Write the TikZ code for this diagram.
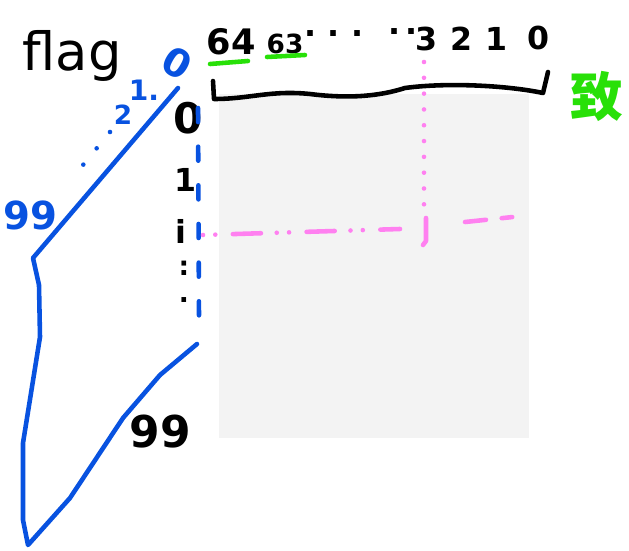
\documentclass[tikz,border=0pt]{standalone}
\usepackage{fontspec}
\setmainfont{DejaVu Sans}
\newfontfamily\cjk{Noto Sans CJK SC}
\usetikzlibrary{positioning}
\definecolor{penblue}{RGB}{8,82,224}
\definecolor{pengreen}{RGB}{40,224,8}
\definecolor{penpink}{RGB}{255,128,240}
\definecolor{sheet}{RGB}{243,243,243}
\tikzstyle{ink} = [line width=2.6pt, line cap=round, line join=round]
\tikzstyle{label} = [inner sep=0pt, font=\bfseries\fontsize{18}{18}\selectfont]
\tikzstyle{bluelabel} = [label, text=penblue]

\begin{document}
\begin{tikzpicture}[x=0.02cm, y=-0.02cm]
\useasboundingbox (0,0) rectangle (629,551);
\fill[sheet] (219,94) rectangle (529,438);

% bit numbers on top
\node (Bit64)[label, font=\bfseries\fontsize{20}{20}\selectfont] at (231,42) {64};
\node (Bit63)[label, font=\bfseries\fontsize{15}{15}\selectfont] at (285,44) {63};
\node (BitDots)[label] at (334,38) {· · ·};
\node (BitDotsR)[label] at (403,36) {·\,·};
\node (Bit3)[label] at (426,39) {3};
\node (Bit2)[label] at (461,39) {2};
\node (Bit1)[label] at (496,39) {1};
\node (Bit0)[label] at (538,38) {0};
\draw[ink, pengreen] (210,64) -- (248,61);
\draw[ink, pengreen] (267,57) -- (305,55);
\node (Shu)[inner sep=0pt, text=pengreen, font=\cjk\bfseries\fontsize{30}{30}\selectfont] at (597,96) {致};

% brace over the columns
\draw[ink] (213,81) -- (214,99) .. controls (250,99) and (270,90) .. (310,94)
  .. controls (350,99) and (380,96) .. (405,88)
  .. controls (450,82) and (510,86) .. (543,93) -- (548,72);

% row numbers
\node (Row0)[label, font=\bfseries\fontsize{24}{24}\selectfont] at (188,118) {0};
\node (Row1)[label] at (186,180) {1};
\node (RowI)[label] at (181,231) {i};
\node (RowDots)[label, font=\bfseries\fontsize{15}{15}\selectfont] at (184,268) {:};
\node (RowDot)[label, font=\bfseries\fontsize{15}{15}\selectfont] at (184,300) {.};
\draw[ink, penblue, dash pattern=on 8pt off 14pt] (198,108) -- (199,318);

% cell i, j
\draw[ink, penpink, dash pattern=on 0pt off 9pt] (424,62) -- (424,215);
\draw[ink, penpink] (426,218) -- (426,241) -- (423,245);
\draw[ink, penpink, dash pattern=on 0pt off 7pt on 0pt off 10pt on 16pt off 9pt] (203,235) -- (400,229);
\draw[ink, penpink, dash pattern=on 12pt off 9pt on 6pt off 12pt on 0pt off 9pt] (465,222) -- (532,215);

% flag
\node (Flag)[label, font=\fontsize{30}{30}\selectfont] at (72,56) {flag};
\node (Blue0)[bluelabel, font=\bfseries\fontsize{22}{22}\selectfont, rotate=-30] at (177,63) {0};
\node (Blue1)[bluelabel, font=\bfseries\fontsize{16}{16}\selectfont] at (144,90) {1.};
\node (Blue2)[bluelabel, font=\bfseries\fontsize{15}{15}\selectfont] at (123,115) {2};
\node (Blue99)[bluelabel, font=\bfseries\fontsize{22}{22}\selectfont] at (30,215) {99};
\draw[ink, penblue, dash pattern=on 0pt off 12pt] (110,132) -- (74,176);
\coordinate (TopEnd) at (178,88);
\coordinate (LeftTop) at (33,258);
\coordinate (LeftLow) at (28,545);
\coordinate (RowEnd) at (197,344);
\draw[ink, penblue] (RowEnd) -- (160,375) -- (123,418) -- (70,498) -- (LeftLow)
  -- (23,520) -- (23,443) -- (40,337) -- (39,285) -- (LeftTop) -- (TopEnd);
\node (Black99)[label, font=\bfseries\fontsize{25}{25}\selectfont] at (160,432) {99};
\end{tikzpicture}
\end{document}
